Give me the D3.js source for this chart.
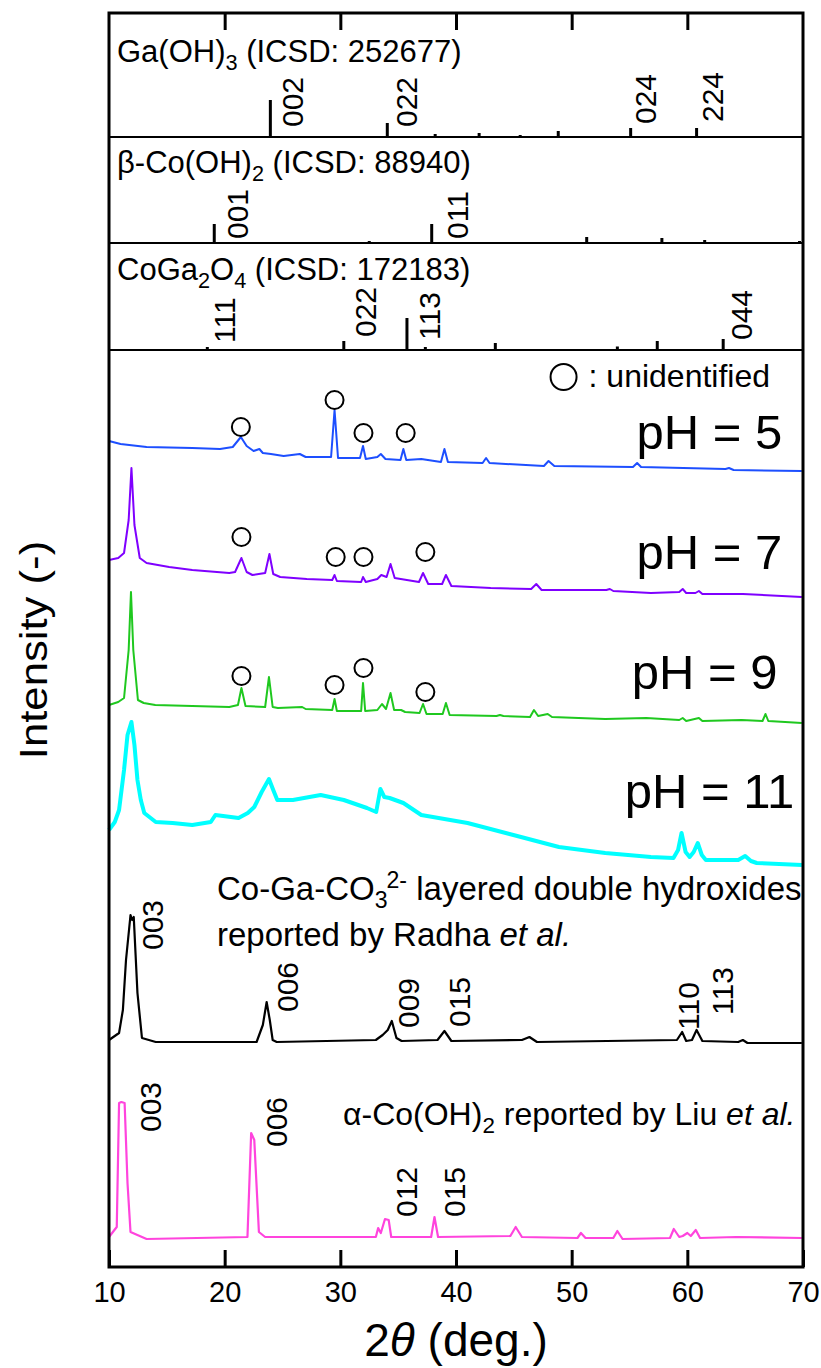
<!DOCTYPE html>
<html><head><meta charset="utf-8">
<script src="https://cdn.jsdelivr.net/npm/d3@7"></script>
<style>
body{margin:0;background:#fff}
text{font-family:"Liberation Sans",Arial,Helvetica,sans-serif;fill:#000}
</style>
</head><body>
<svg id="c" width="821" height="1368"></svg>
<script>
// ---------------- data ----------------
const xTickValues = [10, 20, 30, 40, 50, 60, 70];
const xTopTicks = [20, 30, 40, 50, 60];

// reference stick patterns (2θ, relative intensity)
const gaPos = [23.95, 34.06, 38.2, 42.0, 45.55, 48.84, 55.1, 60.8];
const gaInt = [37, 14, 3, 4, 2, 6, 9, 9];
const gaHkl = ["002", "022", "024", "224"];
const gaHklPos = [26.75, 36.65, 57.25, 63.05];
const gaHklLift = [10, 10, 13, 15];

const betaPos = [19.1, 32.5, 37.9, 51.3, 57.8, 61.5, 69.7];
const betaInt = [19, 2, 19, 6, 5, 3, 2];
const betaHkl = ["001", "011"];
const betaHklPos = [22.05, 41.0];
const betaHklLift = [4, 4];

const coPos = [18.5, 30.3, 35.76, 37.35, 43.4, 53.95, 57.4, 63.1];
const coInt = [3, 9, 32, 3, 7, 3.5, 9, 11];
const coHkl = ["111", "022", "113", "044"];
const coHklPos = [20.9, 33.1, 38.65, 65.6];
const coHklLift = [7, 13, 10, 10];

// measured patterns [2θ, intensity (offset, a.u.)]
const ph5 = [[10.0,826],[11,823],[13.25,820],[17.2,819],[19.6,818],[20.7,820],[21.4,830],[21.9,821],[22.5,816],[23.0,818],[23.3,814],[24,813],[25.1,811],[26.5,813],[27,810],[29.2,810],[29.5,857],[29.8,809],[31.7,809],[31.96,821],[32.2,808],[33.2,810],[33.5,813],[33.9,808],[35.2,807],[35.45,818],[35.7,807],[37.0,808],[38.7,805],[39.0,818],[39.3,805],[42.3,804],[42.6,809],[42.9,804],[47.6,801],[48.0,806],[48.5,801],[55.3,800],[55.66,804],[56,800],[63.3,798],[63.6,799],[64,797],[69.9,796]];
const ph7 = [[10.0,707],[10.8,709],[11.3,714],[11.7,747],[11.94,799],[12.2,742],[12.66,709],[13.25,704],[15.2,700],[17.2,697],[20.4,694],[20.9,695],[21.45,709],[21.9,695],[22.4,692],[23.5,694],[23.87,713],[24.2,693],[24.8,690],[27.1,688],[29.3,687],[29.5,692],[29.7,686],[31.8,685],[31.96,690],[32.2,685],[33.2,688],[33.54,692],[34.0,690],[34.34,703],[34.7,689],[36.8,685],[37.15,694],[37.6,683],[38.8,683],[39.13,692],[39.6,681],[43.0,679],[46.5,678],[46.94,683],[47.4,677],[53.0,677],[53.3,678],[53.6,676],[56.85,674],[59.3,675],[59.6,678],[59.9,674],[60.7,674],[61.0,676],[61.3,673],[64.8,673],[69.9,670]];
const ph9 = [[10.0,562],[10.8,565],[11.3,569],[11.7,617],[11.9,675],[12.1,617],[12.5,567],[13.0,564],[14.0,562],[17.2,561],[20.4,560],[21.15,562],[21.45,579],[21.8,561],[23.5,560],[23.83,590],[24.15,560],[24.6,559],[26.7,560],[27.0,558],[29.3,557],[29.5,568],[29.7,556],[31.8,556],[31.96,584],[32.15,556],[33.2,557],[33.6,563],[33.95,558],[34.34,574],[34.65,557],[35.25,557],[35.6,555],[36.85,554],[37.15,563],[37.45,553],[38.85,553],[39.13,564],[39.45,552],[43.5,551],[43.8,552],[44.1,551],[46.4,550],[46.74,557],[47.1,551],[47.93,553],[48.3,550],[52.9,548],[56.45,549],[59.3,547],[59.6,549],[59.9,546],[61.0,549],[61.3,546],[64.7,547],[66.5,546],[66.76,553],[67.0,546],[69.9,544]];
const ph11 = [[10.0,437],[10.5,445],[10.87,457],[11.3,497],[11.6,532],[11.94,545],[12.2,522],[12.46,487],[12.75,467],[13.05,454],[14.04,445],[15.5,444],[17.2,442],[18.8,445],[19.2,452],[21.2,449],[22.0,454],[22.56,460],[23.2,475],[23.83,488],[24.2,477],[24.55,467],[25.9,467],[28.3,472],[30.3,467],[32.3,459],[33.1,455],[33.46,478],[33.8,470],[34.26,469],[35.45,464],[37.0,452],[41.0,444],[44.96,432],[48.9,420],[52.9,414],[56.85,410],[58.8,409],[59.2,417],[59.5,434],[59.85,415],[60.2,410],[60.55,415],[60.9,424],[61.25,412],[61.6,407],[64.4,407],[65.0,411],[65.5,406],[66.0,404],[69.9,402]];
const radha = [[10.0,227],[10.87,234],[11.2,257],[11.47,307],[11.86,352],[12.0,347],[12.14,350],[12.3,312],[12.46,274],[12.85,229],[14.04,225],[22.76,225],[23.3,242],[23.63,265],[23.9,247],[24.15,227],[24.5,225],[33.07,227],[33.66,232],[34.1,237],[34.45,246],[34.85,229],[35.3,226],[38.4,227],[39.0,236],[39.6,226],[45.7,227],[46.35,230],[47.0,225],[59.1,227],[59.55,235],[59.9,226],[60.4,227],[60.8,237],[61.3,226],[64.4,225],[64.8,227],[65.2,224],[69.9,224]];
const liu = [[10.0,30],[10.67,40],[10.87,164],[11.07,165],[11.35,164],[11.6,84],[11.86,35],[13.25,28],[21.97,30],[22.29,134],[22.56,127],[22.96,35],[23.5,30],[33.07,30],[33.27,39],[33.5,34],[33.86,48],[34.18,47],[34.4,30],[37.85,30],[38.14,50],[38.45,30],[44.7,31],[45.16,40],[45.7,30],[50.5,29],[50.8,34],[51.2,29],[53.6,29],[53.95,36],[54.4,28],[58.5,29],[58.83,38],[59.3,30],[59.6,31],[60.0,34],[60.3,31],[60.73,37],[61.1,29],[64.2,30],[69.9,29]];

// unidentified-peak markers [2θ, intensity]
const unidentified5 = [[21.4,840],[29.5,867],[32.0,834],[35.65,834]];
const unidentified7 = [[21.45,730],[29.6,710],[32.0,710],[37.35,715]];
const unidentified9 = [[21.45,591],[29.5,582],[32.0,599],[37.35,575]];
const legendMarker = [49.3, 890];

// hkl labels on literature patterns
const radhaHkl = ["003","006","009","015","110","113"];
const radhaHklPos = [14.65, 26.36, 36.82, 41.22, 61.02, 63.97];
const radhaHklLift = [317, 255, 239, 240, 237, 252];
const liuHkl = ["003","006","012","015"];
const liuHklPos = [14.46, 25.36, 36.62, 40.82];
const liuHklLift = [135, 120, 50, 50];

const sampleLabels = ["pH = 5","pH = 7","pH = 9","pH = 11"];
const sampleLabelPos = [55.6, 55.6, 55.2, 54.6];
const sampleLabelLift = [818, 698, 578, 459];

// ---------------- drawing ----------------
const svg = d3.select("#c");
const L = 109, R = 803, T = 13, S1 = 137, S2 = 243, S3 = 350, B = 1267;
const x = d3.scaleLinear().domain([10, 70]).range([L, R]);
const y = d3.scaleLinear().domain([0, B - S3]).range([B, S3]);
const yGa = d3.scaleLinear().domain([0, S1 - T]).range([S1, T]);
const yBeta = d3.scaleLinear().domain([0, S2 - S1]).range([S2, S1]);
const yCo = d3.scaleLinear().domain([0, S3 - S2]).range([S3, S2]);

function sticks(pos, inten, ys) {
  svg.append("g").selectAll("line").data(pos).join("line")
    .attr("x1", d => x(d)).attr("x2", d => x(d))
    .attr("y1", ys(0)).attr("y2", (d, i) => ys(inten[i]))
    .attr("stroke", "#000").attr("stroke-width", 3);
}
function hkl(labels, pos, lift, ys, fs) {
  svg.append("g").selectAll("text").data(labels).join("text")
    .attr("transform", (d, i) => `translate(${x(pos[i])},${ys(lift[i])}) rotate(-90)`)
    .attr("font-size", fs).attr("text-anchor", "start").text(d => d);
}
sticks(gaPos, gaInt, yGa);
sticks(betaPos, betaInt, yBeta);
sticks(coPos, coInt, yCo);
hkl(gaHkl, gaHklPos, gaHklLift, yGa, 30);
hkl(betaHkl, betaHklPos, betaHklLift, yBeta, 30);
hkl(coHkl, coHklPos, coHklLift, yCo, 30);

function title(xp, yp, parts, fs) {
  const t = svg.append("text").attr("x", xp).attr("y", yp).attr("font-size", fs);
  let shift = 0;
  parts.forEach(p => {
    const s = t.append("tspan").text(p.t);
    const target = p.sub ? 8 : (p.sup ? -12 : 0);
    s.attr("dy", target - shift); shift = target;
    if (p.sub || p.sup) s.attr("font-size", fs * 0.7);
    if (p.it) s.attr("font-style", "italic");
    if (p.dx) s.attr("dx", p.dx);
  });
  return t;
}
title(117, 62, [{t:"Ga(OH)"},{t:"3",sub:1},{t:" (ICSD: 252677)"}], 31);
title(117, 173, [{t:"β-Co(OH)"},{t:"2",sub:1},{t:" (ICSD: 88940)"}], 31);
title(117, 280, [{t:"CoGa"},{t:"2",sub:1},{t:"O"},{t:"4",sub:1},{t:" (ICSD: 172183)"}], 31);

const line = d3.line().x(d => x(d[0])).y(d => y(d[1]));
const series = [
  {d: ph5, c: "#1d4fff", w: 2},
  {d: ph7, c: "#7f00ff", w: 2},
  {d: ph9, c: "#1fc81f", w: 2},
  {d: ph11, c: "#00ffff", w: 4},
  {d: radha, c: "#000000", w: 2.2},
  {d: liu, c: "#ff44dd", w: 2.2}
];
svg.append("g").selectAll("path").data(series).join("path")
  .attr("d", s => line(s.d)).attr("fill", "none")
  .attr("stroke", s => s.c).attr("stroke-width", s => s.w).attr("stroke-linejoin", "round");

svg.append("g").selectAll("circle").data(unidentified5.concat(unidentified7, unidentified9)).join("circle")
  .attr("cx", d => x(d[0])).attr("cy", d => y(d[1])).attr("r", 9)
  .attr("fill", "none").attr("stroke", "#000").attr("stroke-width", 2);
svg.append("circle").attr("cx", x(legendMarker[0])).attr("cy", y(legendMarker[1])).attr("r", 13)
  .attr("fill", "none").attr("stroke", "#000").attr("stroke-width", 2);
svg.append("text").attr("x", x(legendMarker[0]) + 25).attr("y", y(legendMarker[1]) + 10)
  .attr("font-size", 32).text(": unidentified");

svg.append("g").selectAll("text").data(sampleLabels).join("text")
  .attr("x", (d, i) => x(sampleLabelPos[i])).attr("y", (d, i) => y(sampleLabelLift[i]))
  .attr("text-anchor", "start").attr("font-size", 49).text(d => d);

hkl(radhaHkl, radhaHklPos, radhaHklLift, y, 30);
hkl(liuHkl, liuHklPos, liuHklLift, y, 30);
title(217, 900, [{t:"Co-Ga-CO"},{t:"3",sub:1},{t:"2-",sup:1,dx:-1},{t:" layered double hydroxides"}], 33);
title(217, 946, [{t:"reported by Radha "},{t:"et al.",it:1}], 33);
title(343, 1125, [{t:"α-Co(OH)"},{t:"2",sub:1},{t:" reported by Liu "},{t:"et al.",it:1}], 32);

[S1, S2, S3].forEach(s => svg.append("line").attr("x1", L).attr("x2", R).attr("y1", s).attr("y2", s)
  .attr("stroke", "#000").attr("stroke-width", 2));
svg.append("rect").attr("x", L).attr("y", T).attr("width", R - L).attr("height", B - T)
  .attr("fill", "none").attr("stroke", "#000").attr("stroke-width", 3);

const axB = svg.append("g").attr("transform", `translate(0,${B})`)
  .call(d3.axisBottom(x).tickValues(xTickValues).tickSizeInner(-17).tickSizeOuter(0).tickPadding(14));
axB.select(".domain").remove();
axB.selectAll("line").attr("stroke-width", 3);
axB.selectAll("text").attr("font-size", 29).attr("font-family", '"Liberation Sans",Arial,sans-serif');
const axT = svg.append("g").attr("transform", `translate(0,${T})`)
  .call(d3.axisTop(x).tickValues(xTopTicks).tickSizeInner(-17).tickSizeOuter(0).tickFormat(""));
axT.select(".domain").remove();
axT.selectAll("line").attr("stroke-width", 3);

const xt = svg.append("text").attr("x", (L + R) / 2).attr("y", 1356).attr("text-anchor", "middle").attr("font-size", 46);
xt.append("tspan").text("2");
xt.append("tspan").attr("font-style", "italic").text("θ");
xt.append("tspan").text(" (deg.)");
svg.append("text").attr("transform", `translate(47,650) rotate(-90) scale(1.12,1)`).attr("text-anchor", "middle")
  .attr("font-size", 39).text("Intensity (-)");
</script>
</body></html>
